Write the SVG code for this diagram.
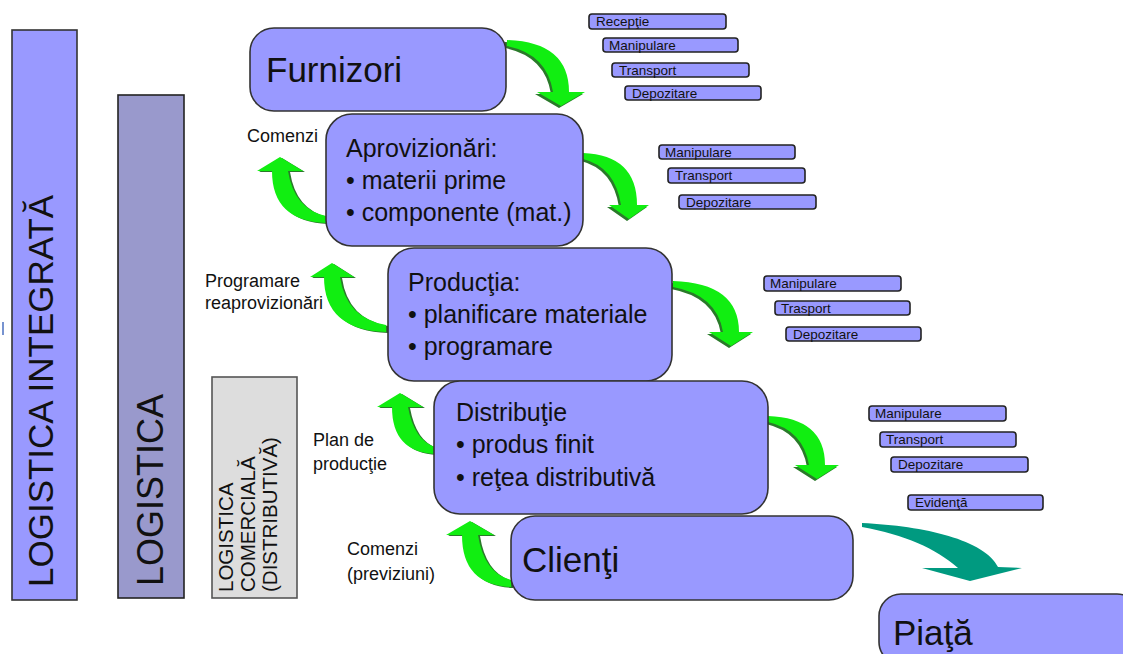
<svg xmlns="http://www.w3.org/2000/svg" width="1123" height="654" viewBox="0 0 1123 654">
<style>
text{font-family:"Liberation Sans",Arial,sans-serif;fill:#111}
.node{fill:#9999ff;stroke:#333;stroke-width:1.6}
.tag{fill:#9999ff;stroke:#222;stroke-width:1.6}
.tagt{font-size:13.5px}
.big{font-size:35px}
.body{font-size:25px}
.lbl{font-size:18px}
.g{fill:#11ee11}
.gs{fill:#2a7a2a}
.teal{fill:#009a80}
</style>
<rect width="1123" height="654" fill="#ffffff"/>
<line x1="3" y1="322" x2="3" y2="335" stroke="#4a6fc0" stroke-width="1.5"/>

<g id="bar-integrata">
<rect x="12" y="30" width="65" height="570" fill="#9999ff" stroke="#333" stroke-width="1.6"/>
<text transform="translate(53,587) rotate(-90)" font-size="35">LOGISTICA INTEGRATĂ</text>
</g>
<g id="bar-logistica">
<rect x="118" y="95" width="66" height="503" fill="#9999cc" stroke="#222" stroke-width="1.6"/>
<text transform="translate(163,586) rotate(-90)" font-size="36">LOGISTICA</text>
</g>
<g id="bar-comerciala">
<rect x="212" y="377" width="85" height="221" fill="#dddddd" stroke="#555" stroke-width="1.6"/>
<text transform="translate(233,592) rotate(-90)" font-size="20.5">LOGISTICA</text>
<text transform="translate(255,592) rotate(-90)" font-size="20.5">COMERCIALĂ</text>
<text transform="translate(277,592) rotate(-90)" font-size="20.5">(DISTRIBUTIVĂ)</text>
</g>

<g id="connectors">
<path class="gs" transform="translate(-2,2)" d="M507,40 Q569,42 569,92 L585,92 L561,106 L537,92 L553,92 Q547,54 507,46 Z"/>
<path class="g" d="M507,40 Q569,42 569,92 L585,92 L561,106 L537,92 L553,92 Q547,54 507,46 Z"/>
<path class="gs" transform="translate(-2,2)" d="M583,153 Q637,155 637,205 L649,205 L629,219 L609,205 L621,205 Q615,167 583,159 Z"/>
<path class="g" d="M583,153 Q637,155 637,205 L649,205 L629,219 L609,205 L621,205 Q615,167 583,159 Z"/>
<path class="gs" transform="translate(-2,2)" d="M673,281 Q739,283 739,332 L753,332 L731,346 L709,332 L723,332 Q717,295 673,287 Z"/>
<path class="g" d="M673,281 Q739,283 739,332 L753,332 L731,346 L709,332 L723,332 Q717,295 673,287 Z"/>
<path class="gs" transform="translate(-2,2)" d="M768,416 Q825,418 825,465 L839,465 L817,479 L795,465 L809,465 Q803,430 768,422 Z"/>
<path class="g" d="M768,416 Q825,418 825,465 L839,465 L817,479 L795,465 L809,465 Q803,430 768,422 Z"/>

<path class="gs" transform="translate(2,1)" d="M326,223 Q272,221 272,171 L257,171 L280,157 L303,171 L288,171 Q294,209 326,216 Z"/>
<path class="g" d="M326,223 Q272,221 272,171 L257,171 L280,157 L303,171 L288,171 Q294,209 326,216 Z"/>
<path class="gs" transform="translate(2,1)" d="M386,332 Q324,330 324,277 L310,277 L332,263 L354,277 L340,277 Q346,318 386,325 Z"/>
<path class="g" d="M386,332 Q324,330 324,277 L310,277 L332,263 L354,277 L340,277 Q346,318 386,325 Z"/>
<path class="gs" transform="translate(2,1)" d="M435,454 Q392,452 392,407 L377,407 L400,393 L423,407 L408,407 Q414,440 435,447 Z"/>
<path class="g" d="M435,454 Q392,452 392,407 L377,407 L400,393 L423,407 L408,407 Q414,440 435,447 Z"/>
<path class="gs" transform="translate(2,1)" d="M511,587 Q462,585 462,535 L446,535 L470,521 L494,535 L478,535 Q484,573 511,580 Z"/>
<path class="g" d="M511,587 Q462,585 462,535 L446,535 L470,521 L494,535 L478,535 Q484,573 511,580 Z"/>

<path class="teal" d="M862,523 C925,526 985,540 998,567 L1022,568 L970,581 L922,568 L958,568 C935,548 905,535 862,527 Z"/>
</g>

<g id="furnizori">
<rect class="node" x="250" y="28" width="256" height="83" rx="24"/>
<text class="big" x="266" y="82">Furnizori</text>
</g>
<g id="aprovizionari">
<rect class="node" x="326" y="114" width="257" height="132" rx="26"/>
<text class="body" x="346" y="157">Aprovizionări:</text>
<text class="body" x="346" y="189">• materii prime</text>
<text class="body" x="346" y="221">• componente (mat.)</text>
</g>
<g id="productia">
<rect class="node" x="388" y="248" width="284" height="133" rx="26"/>
<text class="body" x="408" y="291">Producţia:</text>
<text class="body" x="408" y="323">• planificare materiale</text>
<text class="body" x="408" y="355">• programare</text>
</g>
<g id="distributie">
<rect class="node" x="434" y="381" width="334" height="133" rx="26"/>
<text class="body" x="456" y="421">Distribuţie</text>
<text class="body" x="456" y="453">• produs finit</text>
<text class="body" x="456" y="486">• reţea distributivă</text>
</g>
<g id="clienti">
<rect class="node" x="511" y="516" width="342" height="84" rx="24"/>
<text class="big" x="522" y="572">Clienţi</text>
</g>
<g id="piata">
<rect class="node" x="879" y="594" width="260" height="70" rx="22"/>
<text class="big" x="893" y="645">Piaţă</text>
</g>

<g id="labels">
<text class="lbl" x="247" y="142">Comenzi</text>
<text class="lbl" x="205" y="287">Programare</text>
<text class="lbl" x="205" y="309">reaprovizionări</text>
<text class="lbl" x="313" y="446">Plan de</text>
<text class="lbl" x="313" y="470">producţie</text>
<text class="lbl" x="347" y="555">Comenzi</text>
<text class="lbl" x="347" y="580">(previziuni)</text>
</g>

<g id="tags-furnizori">
<rect class="tag" x="589" y="14" width="137" height="15" rx="3"/><text class="tagt" x="596" y="26">Recepţie</text>
<rect class="tag" x="603" y="38" width="135" height="14" rx="3"/><text class="tagt" x="609" y="50">Manipulare</text>
<rect class="tag" x="612" y="63" width="137" height="14" rx="3"/><text class="tagt" x="619" y="75">Transport</text>
<rect class="tag" x="625" y="86" width="136" height="14" rx="3"/><text class="tagt" x="632" y="98">Depozitare</text>
</g>
<g id="tags-aprovizionari">
<rect class="tag" x="659" y="145" width="136" height="14" rx="3"/><text class="tagt" x="665" y="157">Manipulare</text>
<rect class="tag" x="668" y="168" width="137" height="15" rx="3"/><text class="tagt" x="675" y="180">Transport</text>
<rect class="tag" x="679" y="195" width="137" height="14" rx="3"/><text class="tagt" x="686" y="207">Depozitare</text>
</g>
<g id="tags-productia">
<rect class="tag" x="764" y="276" width="137" height="15" rx="3"/><text class="tagt" x="770" y="288">Manipulare</text>
<rect class="tag" x="775" y="301" width="135" height="14" rx="3"/><text class="tagt" x="781" y="313">Trasport</text>
<rect class="tag" x="786" y="327" width="135" height="14" rx="3"/><text class="tagt" x="793" y="339">Depozitare</text>
</g>
<g id="tags-distributie">
<rect class="tag" x="869" y="406" width="137" height="15" rx="3"/><text class="tagt" x="875" y="418">Manipulare</text>
<rect class="tag" x="880" y="432" width="136" height="15" rx="3"/><text class="tagt" x="886" y="444">Transport</text>
<rect class="tag" x="891" y="457" width="137" height="15" rx="3"/><text class="tagt" x="898" y="469">Depozitare</text>
<rect class="tag" x="908" y="495" width="135" height="15" rx="3"/><text class="tagt" x="915" y="507">Evidenţă</text>
</g>
</svg>
